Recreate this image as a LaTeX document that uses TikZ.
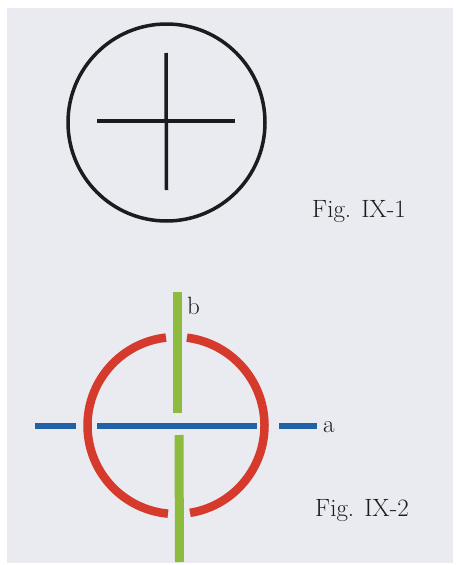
\documentclass[tikz,border=0pt]{standalone}
\definecolor{bgpaper}{HTML}{E9EBF1}
\definecolor{inkblack}{HTML}{1C1C1E}
\definecolor{redarc}{HTML}{D63A2C}
\definecolor{bluebar}{HTML}{1F62A8}
\definecolor{greenbar}{HTML}{8CBB3E}
\tikzset{
  blackline/.style={draw=inkblack, line width=3.5pt},
  redline/.style={draw=redarc, line width=8.5pt},
  blueline/.style={draw=bluebar, line width=6.5pt},
  greenline/.style={draw=greenbar, line width=9pt},
  caption/.style={font=\fontsize{25}{30}\selectfont, text=inkblack, inner sep=0pt, anchor=base west},
}
\begin{document}
\begin{tikzpicture}[x=1pt,y=1pt]
\useasboundingbox (0,0) rectangle (457,-565);
\fill[white] (0,0) rectangle (457,-565);
\fill[bgpaper] (7,-8) rectangle (453,-563);
% Fig IX-1
\draw[blackline] (166.5,-122.5) circle[radius=98.5];
\draw[blackline] (97,-121) -- (235,-121);
\draw[blackline] (166,-53) -- (166.5,-190);
\node[caption] (fig1) at (312,-217) {Fig. IX-1};
% Fig IX-2
\draw[redline] (176,-425.5) ++(96.5:88.5) arc[start angle=96.5, end angle=264.8, radius=88.5];
\draw[redline] (176,-425.5) ++(279.1:88.5) arc[start angle=279.1, end angle=442.9, radius=88.5];
\draw[blueline] (35,-426) -- (76,-426);
\draw[blueline] (97,-426) -- (257,-426);
\draw[blueline] (279,-426) -- (317,-426);
\draw[greenline] (177.5,-292) -- (177.5,-413);
\draw[greenline] (179,-435) -- (179.5,-562);
\node[caption] (lblb) at (187,-314) {b};
\node[caption] (lbla) at (323,-432) {a};
\node[caption] (fig2) at (315,-516) {Fig. IX-2};
\end{tikzpicture}
\end{document}
